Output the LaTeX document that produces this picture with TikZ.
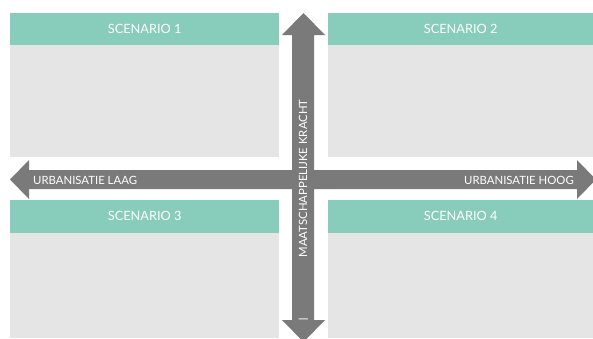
\documentclass[tikz,border=0pt]{standalone}
\usepackage{fontspec}
\setmainfont{Lato}
\definecolor{teal}{HTML}{88CCBB}
\definecolor{bodygray}{HTML}{E5E5E5}
\definecolor{arrowgray}{HTML}{7A7A7A}
\begin{document}
\begin{tikzpicture}[x=1bp,y=-1bp,
  header/.style={fill=teal,draw=none,inner sep=0pt,font=\fontsize{12.8}{14}\selectfont,text=white},
  body/.style={fill=bodygray,draw=none,inner sep=0pt},
  axislabel/.style={text=white,inner sep=0pt,font=\fontsize{11.4}{13}\selectfont},
  axisfill/.style={fill=arrowgray,draw=none}]
\useasboundingbox (0,0) rectangle (593,338);
\clip (0,0) rectangle (593,338);
\fill[white] (0,0) rectangle (593,338);
% scenario boxes
\node[body,minimum width=269bp,minimum height=112bp,anchor=north west] (b1) at (10,45) {};
\node[header,minimum width=269bp,minimum height=32bp,anchor=south west] (h1) at (b1.north west) {SCENARIO 1};
\node[body,minimum width=265bp,minimum height=112bp,anchor=north west] (b2) at (328,45) {};
\node[header,minimum width=265bp,minimum height=32bp,anchor=south west] (h2) at (b2.north west) {SCENARIO 2};
\node[body,minimum width=269bp,minimum height=105bp,anchor=north west] (b3) at (10,233) {};
\node[header,minimum width=269bp,minimum height=33bp,anchor=south west] (h3) at (b3.north west) {SCENARIO 3};
\node[body,minimum width=265bp,minimum height=105bp,anchor=north west] (b4) at (328,233) {};
\node[header,minimum width=265bp,minimum height=33bp,anchor=south west] (h4) at (b4.north west) {SCENARIO 4};
% horizontal axis
\fill[axisfill] (10,179.5) -- (29,160) -- (29,170) -- (577,170) -- (577,160) -- (596,179.5) -- (577,199) -- (577,189) -- (29,189) -- (29,199) -- cycle;
% vertical axis
\fill[axisfill] (303.5,13) -- (325,35) -- (314,35) -- (314,320) -- (325,320) -- (303.5,342) -- (282,320) -- (292,320) -- (292,35) -- (282,35) -- cycle;
% labels
\node[axislabel,anchor=west] (ll) at (33,180) {URBANISATIE LAAG};
\node[axislabel,anchor=east] (lh) at (574,180) {URBANISATIE HOOG};
\node[axislabel,rotate=90] (lv) at (303,178.5) {MAATSCHAPPELIJKE KRACHT};
\node[axislabel,font=\fontsize{14}{16}\selectfont] (lm) at (303.5,321) {—};
\end{tikzpicture}
\end{document}
